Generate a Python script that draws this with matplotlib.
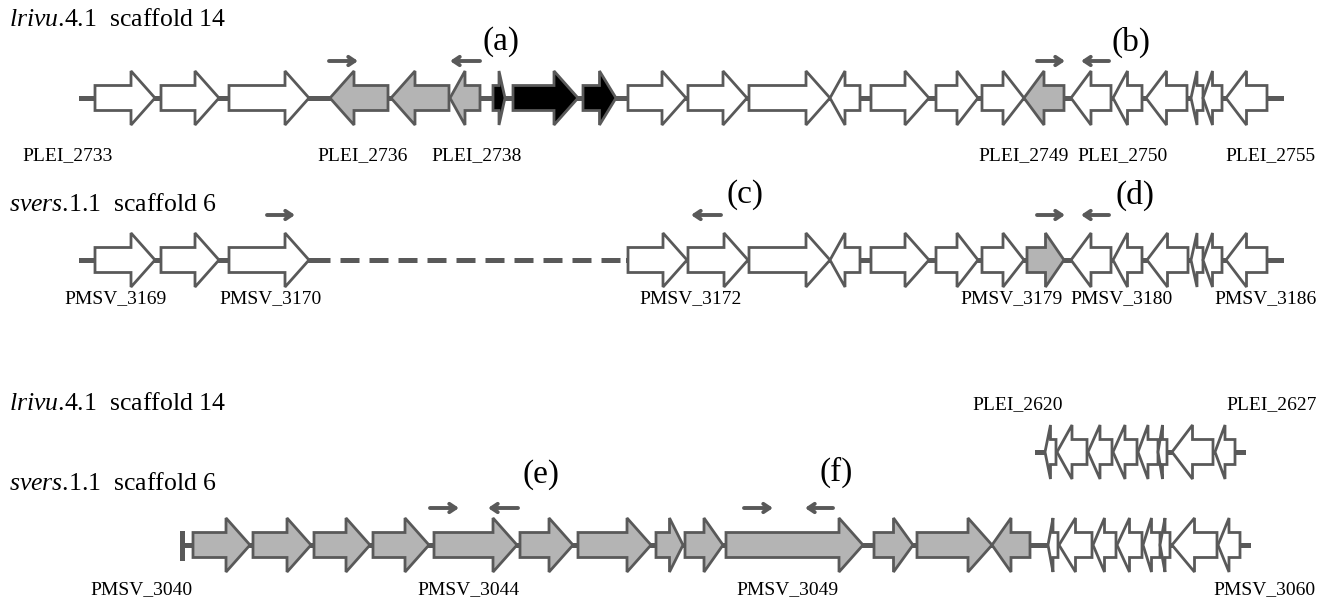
import matplotlib
matplotlib.use('Agg')
import matplotlib.pyplot as plt
from matplotlib.patches import Polygon

plt.rcParams['font.family'] = ['Liberation Serif', 'DejaVu Serif']
plt.rcParams['mathtext.fontset'] = 'custom'
plt.rcParams['mathtext.rm'] = 'Liberation Serif'
plt.rcParams['mathtext.it'] = 'Liberation Serif:italic'

EDGE = '#595959'
FILL = {'w': 'white', 'g': '#b4b4b4', 'k': 'black'}

# gene start / end (scaffold position in drawing units), strand, colour class
row1_start = [95, 161, 229, 330, 391, 450, 493, 513, 583, 628, 688, 749, 830, 871, 936, 982,
              1024, 1071, 1113, 1146, 1191, 1203, 1226]
row1_end = [155, 219, 309, 388, 449, 480, 505, 578, 616, 686, 747, 830, 860, 929, 978, 1024,
            1064, 1111, 1142, 1187, 1203, 1222, 1267]
row1_strand = ['+', '+', '+', '-', '-', '-', '+', '+', '+', '+', '+', '+', '-', '+', '+', '+',
               '-', '-', '-', '-', '-', '-', '-']
row1_col = ['w', 'w', 'w', 'g', 'g', 'g', 'k', 'k', 'k', 'w', 'w', 'w', 'w', 'w', 'w', 'w',
            'g', 'w', 'w', 'w', 'w', 'w', 'w']

row2_start = [95, 161, 229, 628, 688, 749, 830, 871, 936, 982, 1027, 1071, 1113, 1147, 1191, 1203, 1226]
row2_end = [155, 219, 309, 687, 748, 830, 860, 929, 978, 1024, 1064, 1111, 1142, 1188, 1203, 1222, 1267]
row2_strand = ['+', '+', '+', '+', '+', '+', '-', '+', '+', '+', '+', '-', '-', '-', '-', '-', '-']
row2_col = ['w', 'w', 'w', 'w', 'w', 'w', 'w', 'w', 'w', 'w', 'g', 'w', 'w', 'w', 'w', 'w', 'w']

row3_start = [1045, 1057, 1088, 1113, 1138, 1158, 1172, 1215]
row3_end = [1056, 1087, 1112, 1137, 1158, 1167, 1213, 1235]
row3_strand = ['-'] * 8
row3_col = ['w'] * 8

row4_start = [193, 253, 314, 373, 434, 520, 578, 656, 685, 726, 874, 917, 992,
              1048, 1059, 1093, 1117, 1143, 1160, 1172, 1218]
row4_end = [250, 311, 370, 429, 517, 573, 651, 683, 723, 863, 913, 992, 1030,
            1058, 1092, 1116, 1142, 1160, 1170, 1217, 1240]
row4_strand = ['+'] * 12 + ['-'] * 9
row4_col = ['g'] * 13 + ['w'] * 8

row1_labels = [('PLEI_2733', 68), ('PLEI_2736', 363), ('PLEI_2738', 477),
               ('PLEI_2749', 1024), ('PLEI_2750', 1123), ('PLEI_2755', 1270)]
row2_labels = [('PMSV_3169', 116), ('PMSV_3170', 271), ('PMSV_3172', 691),
               ('PMSV_3179', 1012), ('PMSV_3180', 1122), ('PMSV_3186', 1266)]
row3_labels = [('PLEI_2620', 1018), ('PLEI_2627', 1272)]
row4_labels = [('PMSV_3040', 141), ('PMSV_3044', 468), ('PMSV_3049', 787), ('PMSV_3060', 1264)]

# primer pairs: (from, to)
primers1 = [(329, 358), (480, 450), (1037, 1065), (1109, 1081)]
primers2 = [(267, 295), (721, 691), (1037, 1065), (1109, 1081)]
primers4 = [(430, 459), (518, 488), (744, 773), (833, 805)]
tags = [('(a)', 501, 42), ('(b)', 1131, 42), ('(c)', 745, 195), ('(d)', 1135, 195),
        ('(e)', 541, 475), ('(f)', 836, 472)]


def gene(ax, s, e, strand, col, y):
    bh, hh = 12.5, 27
    head = min(24, (e - s) / 2)
    if strand == '+':
        b = e - head
        pts = [(s, y - bh), (b, y - bh), (b, y - hh), (e, y), (b, y + hh), (b, y + bh), (s, y + bh)]
    else:
        b = s + head
        pts = [(e, y - bh), (b, y - bh), (b, y - hh), (s, y), (b, y + hh), (b, y + bh), (e, y + bh)]
    ax.add_patch(Polygon(pts, closed=True, facecolor=FILL[col], edgecolor=EDGE, lw=2.0,
                         joinstyle='miter', zorder=3))


def draw_row(ax, starts, ends, strands, cols, y):
    for s, e, st, c in zip(starts, ends, strands, cols):
        gene(ax, s, e, st, c, y)


def primers(ax, pairs, y):
    for a, b in pairs:
        ax.annotate('', xy=(b, y), xytext=(a, y),
                    arrowprops=dict(arrowstyle='->,head_length=0.45,head_width=0.3',
                                    lw=2.8, color=EDGE, shrinkA=0, shrinkB=0))


fig = plt.figure(figsize=(13.29, 6.05), dpi=100)
ax = fig.add_axes([0, 0, 1, 1])
ax.set_xlim(0, 1329)
ax.set_ylim(605, 0)
ax.axis('off')

y1, y2, y3, y4 = 98, 260, 452, 545

# backbones
ax.plot([81, 1281], [y1, y1], color=EDGE, lw=3.6, zorder=1)
ax.plot([81, 311], [y2, y2], color=EDGE, lw=3.6, zorder=1)
ax.plot([311, 628], [y2, y2], color=EDGE, lw=3.6, zorder=1, dashes=(3.8, 2.0))
ax.plot([628, 1281], [y2, y2], color=EDGE, lw=3.6, zorder=1)
ax.plot([1037, 1243], [y3, y3], color=EDGE, lw=3.6, zorder=1)
ax.plot([182, 1248], [y4, y4], color=EDGE, lw=3.6, zorder=1)
ax.plot([182, 182], [y4 - 12.5, y4 + 12.5], color=EDGE, lw=3.6, zorder=1)

draw_row(ax, row1_start, row1_end, row1_strand, row1_col, y1)
draw_row(ax, row2_start, row2_end, row2_strand, row2_col, y2)
draw_row(ax, row3_start, row3_end, row3_strand, row3_col, y3)
draw_row(ax, row4_start, row4_end, row4_strand, row4_col, y4)

primers(ax, primers1, 61)
primers(ax, primers2, 215)
primers(ax, primers4, 508)

for t, x, y in tags:
    ax.text(x, y, t, fontsize=24, ha='center', va='center')

for labels, y in [(row1_labels, 156), (row2_labels, 299), (row3_labels, 405), (row4_labels, 590)]:
    for t, x in labels:
        ax.text(x, y, t, fontsize=14, ha='center', va='center')

title_fs = 18.5
ax.text(9, 20, r'$\mathit{lrivu}$.4.1  scaffold 14', fontsize=title_fs, va='center')
ax.text(9, 205, r'$\mathit{svers}$.1.1  scaffold 6', fontsize=title_fs, va='center')
ax.text(9, 404, r'$\mathit{lrivu}$.4.1  scaffold 14', fontsize=title_fs, va='center')
ax.text(9, 484, r'$\mathit{svers}$.1.1  scaffold 6', fontsize=title_fs, va='center')

fig.savefig('out.png', dpi=100)
